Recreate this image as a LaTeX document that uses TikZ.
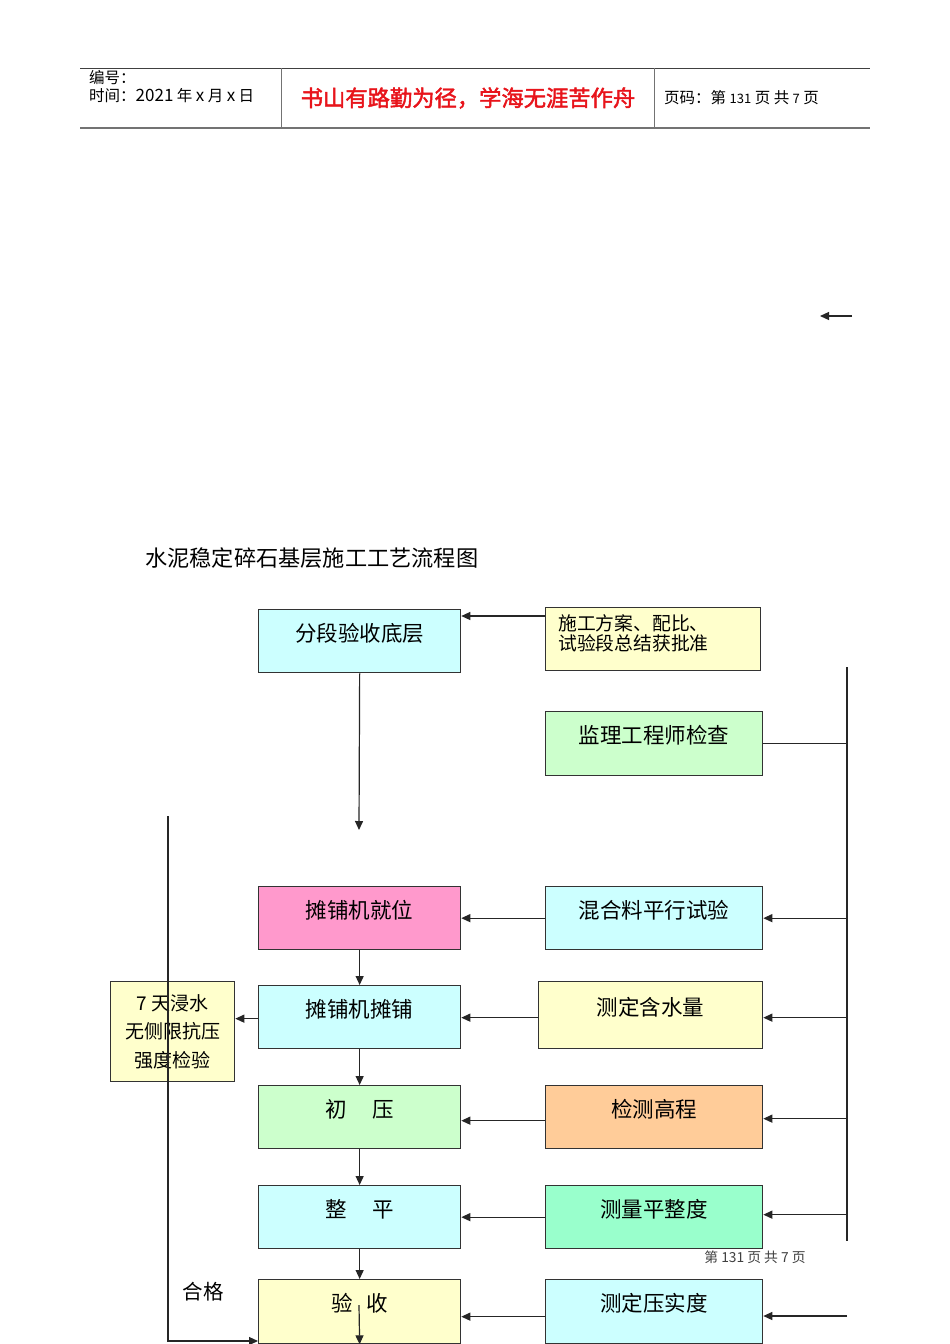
\documentclass[tikz,border=0pt]{standalone}
\usepackage{fontspec}
\setmainfont{Liberation Serif}
\newfontfamily\cjk{Noto Sans CJK SC}
\newfontfamily\cjkb[FakeBold=2]{Noto Sans CJK SC}
\usetikzlibrary{arrows.meta}
\definecolor{cyanbox}{HTML}{CCFFFF}
\definecolor{yelbox}{HTML}{FFFFCC}
\definecolor{grnbox}{HTML}{CCFFCC}
\definecolor{pinkbox}{HTML}{FF99CC}
\definecolor{orgbox}{HTML}{FFCC99}
\definecolor{mintbox}{HTML}{99FFCC}
\definecolor{hdred}{HTML}{E8141B}
\tikzset{
  box/.style={draw=black!80, line width=1.3pt, anchor=north west, inner sep=2pt,
    font=\cjk\fontsize{21.5}{24}\selectfont, text height=8.5pt, text depth=8.5pt},
  conn/.style={draw=black!85, line width=1.2pt},
  arr/.style={conn, -{Triangle[length=9pt,width=8pt]}},
  hdline/.style={draw=black!55, line width=1.2pt}
}
\begin{document}
\begin{tikzpicture}[x=1pt,y=-1pt]
\useasboundingbox[fill=white] (0,0) rectangle (950,1344);
% header
\draw[draw=black!75, line width=0.8pt] (80,68) -- (870,68);
\draw[hdline, line width=1.8pt] (80,128) -- (870,128);
\draw[hdline, line width=0.8pt] (281,68) -- (281,128);
\draw[hdline, line width=0.8pt] (654,68) -- (654,128);
\node[anchor=west, inner sep=0, font=\cjk\fontsize{15.5}{16}\selectfont] (hno) at (89,78) {编号：};
\node[anchor=west, inner sep=0, font=\cjk\fontsize{15.5}{16}\selectfont] (htime) at (89,96) {时间：{\fontsize{17}{18}\selectfont 2021} 年 {\fontsize{17}{18}\selectfont x} 月 {\fontsize{17}{18}\selectfont x} 日};
\node[anchor=center, inner sep=0, text=hdred, font=\cjkb\fontsize{22.3}{24}\selectfont] (hmotto) at (468,98) {书山有路勤为径，学海无涯苦作舟};
\node[anchor=west, inner sep=0, font=\cjk\fontsize{15.5}{16}\selectfont] (hpage) at (664,98) {页码：第 {\fontsize{13}{14}\selectfont 131} 页 共 {\fontsize{13}{14}\selectfont 7} 页};
% stray arrow
\coordinate (sa1) at (852,316);
\coordinate (sa2) at (820,316);
\draw[arr] (sa1) -- (sa2);
% title
\node[anchor=west, inner sep=0, font=\cjk\fontsize{22.2}{24}\selectfont] (title) at (145,558) {水泥稳定碎石基层施工工艺流程图};
% boxes
\node[box, fill=cyanbox, minimum width=202pt, minimum height=63pt] (fd) at (258,609) {分段验收底层};
\node[box, fill=yelbox, minimum width=215pt, minimum height=63pt] (plan) at (545,607) {};
\node[anchor=west, inner sep=0, align=left, font=\cjk\fontsize{18.8}{20}\selectfont] (plantxt) at (558,633) {施工方案、配比、\\试验段总结获批准};
\node[box, fill=grnbox, minimum width=217pt, minimum height=64pt] (jl) at (545,711) {监理工程师检查};
\node[box, fill=pinkbox, minimum width=202pt, minimum height=63pt] (tp) at (258,886) {摊铺机就位};
\node[box, fill=cyanbox, minimum width=217pt, minimum height=63pt] (hh) at (545,886) {混合料平行试验};
\node[box, fill=yelbox, minimum width=224pt, minimum height=67pt] (cs) at (538,981) {测定含水量};
\node[box, fill=cyanbox, minimum width=202pt, minimum height=63pt] (tj) at (258,985) {摊铺机摊铺};
\node[box, fill=yelbox, minimum width=124pt, minimum height=100pt, align=center,
      text height=, text depth=, font=\cjk\fontsize{19}{28.5}\selectfont] (qd) at (110,981) {7 天浸水\\无侧限抗压\\强度检验};
\node[box, fill=grnbox, minimum width=202pt, minimum height=63pt] (cy) at (258,1085) {初\hspace{1.2em}压};
\node[box, fill=orgbox, minimum width=217pt, minimum height=63pt] (jc) at (545,1085) {检测高程};
\node[box, fill=cyanbox, minimum width=202pt, minimum height=63pt] (zp) at (258,1185) {整\hspace{1.2em}平};
\node[box, fill=mintbox, minimum width=217pt, minimum height=63pt] (pz) at (545,1185) {测量平整度};
\node[box, fill=yelbox, minimum width=202pt, minimum height=64pt, text height=22pt, text depth=22pt] (ys) at (258,1279) {验\hspace{0.6em}收};
\node[box, fill=cyanbox, minimum width=217pt, minimum height=64pt, text height=22pt, text depth=22pt] (yd) at (545,1279) {测定压实度};
% labels
\node[anchor=center, inner sep=0, font=\cjk\fontsize{20.5}{22}\selectfont] (hg) at (203,1292) {合格};
\node[anchor=center, inner sep=0, text=black!75, font=\cjk\fontsize{13.8}{14}\selectfont] (foot) at (755,1257) {第 131 页 共 7 页};
% connectors: top
\draw[arr] ([yshift=-9pt]plan.north west) -- ([yshift=-7pt]fd.north east);
\coordinate (fdend) at (359,830);
\draw[arr] (fd.south) -- (fdend);
% right bus
\coordinate (bt) at (847,667);
\coordinate (bb) at (847,1241);
\draw[conn] (bt) -- (bb);
\draw[conn] (jl.east) -- (jl.east -| bt);
\draw[arr] (hh.east -| bt) -- (hh.east);
\draw[arr] ([yshift=-2.5pt]cs.east -| bt) -- ([yshift=-2.5pt]cs.east);
\draw[arr] ([yshift=-1.5pt]jc.east -| bt) -- ([yshift=-1.5pt]jc.east);
\draw[arr] ([yshift=2.5pt]pz.east -| bt) -- ([yshift=2.5pt]pz.east);
\coordinate (r5) at (847,1316);
\draw[arr] (r5) -- (r5 -| yd.east);
% right column to main column
\draw[arr] (hh.west) -- (hh.west -| tp.east);
\draw[arr] ([yshift=-2.5pt]cs.west) -- ([yshift=-2.5pt]cs.west -| tj.east);
\draw[arr] ([yshift=-3.5pt]jc.west) -- ([yshift=-3.5pt]jc.west -| cy.east);
\draw[arr] (pz.west) -- (pz.west -| zp.east);
\draw[arr] ([yshift=-5pt]yd.west) -- ([yshift=-5pt]yd.west -| ys.east);
% main column
\draw[arr] (tp.south) -- (tj.north);
\draw[arr] (tj.south) -- (cy.north);
\draw[arr] (cy.south) -- (zp.north);
\draw[arr] (zp.south) -- (ys.north);
\coordinate (ysin) at (359,1305);
\draw[arr] (ysin) -- (ys.south);
% left branch
\draw[arr] ([yshift=-1.5pt]tj.west) -- ([yshift=-1.5pt]tj.west -| qd.east);
\coordinate (lt) at (168,816);
\coordinate (lb) at (168,1341);
\draw[arr] (lt) -- (lb) -- (lb -| ys.west);
\end{tikzpicture}
\end{document}
